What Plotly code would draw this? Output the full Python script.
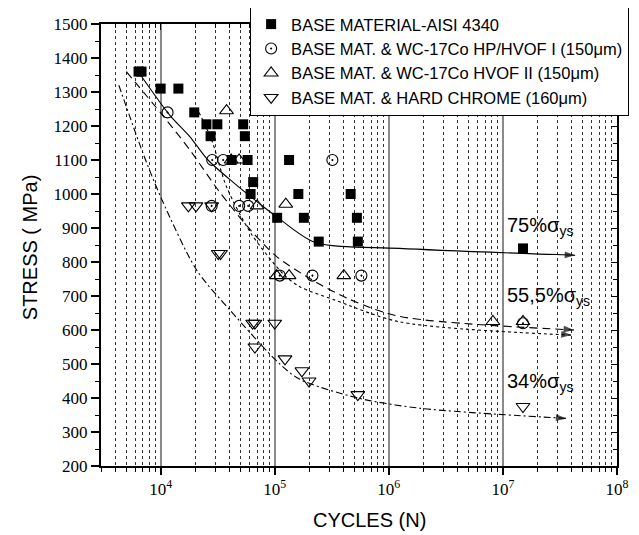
import math
import plotly.graph_objects as go

# ---------------- data ----------------
base_x = [6400, 6800, 10000, 14300, 19700, 25200, 31400, 52900, 27400, 54700,
          41900, 57800, 133600, 64700, 61400, 105000, 161000, 180000, 243000,
          463000, 525000, 535000, 15000000]
base_y = [1360, 1360, 1310, 1310, 1240, 1205, 1205, 1205, 1170, 1170,
          1100, 1100, 1100, 1035, 1000, 930, 1000, 930, 860,
          1000, 930, 860, 840]

hp_x = [11500, 28300, 35300, 320000, 48800, 58500, 28000, 110800, 214000, 575000, 15000000]
hp_y = [1240, 1100, 1100, 1100, 965, 965, 965, 760, 760, 760, 620]

hvof2_x = [37800, 41500, 48700, 70000, 125000, 103700, 133600, 403000, 8170000, 15000000]
hvof2_y = [1245, 1100, 1100, 965, 970, 760, 760, 760, 625, 625]

chrome_x = [17500, 20400, 28000, 32000, 33500, 64000, 67000, 100000, 67000,
            123000, 173000, 200000, 535000, 15000000]
chrome_y = [965, 965, 965, 825, 825, 620, 620, 620, 550,
            515, 480, 450, 410, 375]

# trend curves
curve75_x = [6500, 12000, 18000, 26000, 43000, 85000, 105000, 224000, 1240000, 43000000]
curve75_y = [1355, 1232, 1169, 1100, 1035, 955, 932, 858, 840, 820]

curve55a_x = [5000, 10200, 18000, 33000, 61000, 104000, 232000, 455000, 1240000, 42000000]
curve55a_y = [1360, 1235, 1130, 1005, 895, 816, 740, 690, 640, 600]

curve55b_x = [21700, 28000, 37800, 62000, 118600, 166000, 325000, 1240000, 40000000]
curve55b_y = [1240, 1159, 1021, 884, 765, 727, 690, 624, 585]

curve34_x = [4300, 7000, 10200, 20700, 40400, 110600, 166000, 535000, 1860000, 36000000]
curve34_y = [1320, 1120, 985, 776, 659, 500, 455, 400, 370, 340]

labels = ["BASE MATERIAL-AISI 4340",
          "BASE MAT. & WC-17Co HP/HVOF I (150\u03bcm)",
          "BASE MAT. & WC-17Co HVOF II (150\u03bcm)",
          "BASE MAT. & HARD CHROME (160\u03bcm)"]

xtick_vals = [1e4, 1e5, 1e6, 1e7, 1e8]
xtick_text = ["10<sup>4</sup>", "10<sup>5</sup>", "10<sup>6</sup>", "10<sup>7</sup>", "10<sup>8</sup>"]
xminor_vals = [k * 10 ** d for d in range(3, 8) for k in range(2, 10) if k * 10 ** d >= 3000]

level_texts = ["75%\u03c3<sub>ys</sub>", "55,5%\u03c3<sub>ys</sub>", "34%\u03c3<sub>ys</sub>"]
level_y = [905, 700, 445]

# ---------------- figure ----------------
XR = [math.log10(3000), 8]
YR = [200, 1500]

fig = go.Figure()

curves = [(curve75_x, curve75_y, "solid"),
          (curve55a_x, curve55a_y, "8px,5px"),
          (curve55b_x, curve55b_y, "3px,3px"),
          (curve34_x, curve34_y, "7px,3px,2px,3px")]
for cx, cy, dash in curves:
    n = len(cx)
    fig.add_trace(go.Scatter(
        x=cx, y=cy, mode="lines+markers",
        line=dict(color="black", width=1.1, dash=dash, shape="spline", smoothing=0.8),
        marker=dict(symbol="arrow", angleref="previous", color="black",
                    size=[0] * (n - 1) + [11], line=dict(width=0)),
        showlegend=False, hoverinfo="skip"))

fig.add_trace(go.Scatter(x=base_x, y=base_y, mode="markers", name=labels[0],
                         marker=dict(symbol="square", size=10, color="black")))
fig.add_trace(go.Scatter(x=hp_x, y=hp_y, mode="markers", name=labels[1],
                         marker=dict(symbol="circle-open-dot", size=11, color="black",
                                     line=dict(width=1.1))))
fig.add_trace(go.Scatter(x=hvof2_x, y=hvof2_y, mode="markers", name=labels[2],
                         marker=dict(symbol="triangle-up-open", size=12, color="black",
                                     line=dict(width=1.1))))
fig.add_trace(go.Scatter(x=chrome_x, y=chrome_y, mode="markers", name=labels[3],
                         marker=dict(symbol="triangle-down-open", size=12, color="black",
                                     line=dict(width=1.1))))

# dummy trace to show mirrored axes with inside ticks
fig.add_trace(go.Scatter(x=[None], y=[None], xaxis="x2", yaxis="y2",
                         showlegend=False, hoverinfo="skip"))

serif = "Liberation Serif, Times New Roman, serif"
sans = "Liberation Sans, Arial, sans-serif"

for t, yv in zip(level_texts, level_y):
    fig.add_annotation(x=7.015, y=yv, xref="x", yref="y", text=t, showarrow=False,
                       xanchor="left", yanchor="middle",
                       font=dict(family=sans, size=20, color="black"))

fig.add_annotation(x=0.521, y=-0.122, xref="paper", yref="paper", text="CYCLES (N)",
                   showarrow=False, xanchor="center", yanchor="middle",
                   font=dict(family=sans, size=20, color="black"))
fig.add_annotation(x=-0.1376, y=0.495, xref="paper", yref="paper", text="STRESS ( MPa)",
                   showarrow=False, textangle=-90, xanchor="center", yanchor="middle",
                   font=dict(family=sans, size=20, color="black"))

# the page has an 8px body margin, so the figure is 8px smaller than the window
fig.update_layout(
    width=631, height=527,
    margin=dict(l=93, r=22, t=16, b=69, autoexpand=False),
    paper_bgcolor="white", plot_bgcolor="white",
    showlegend=True,
    legend=dict(x=0.289, y=1.041, xanchor="left", yanchor="top",
                bordercolor="black", borderwidth=1, bgcolor="white",
                font=dict(family=sans, size=16.5, color="black"),
                tracegroupgap=0, itemsizing="trace", itemwidth=30),
    xaxis=dict(type="log", range=XR, tickmode="array", tickvals=xtick_vals, ticktext=xtick_text,
               ticks="outside", ticklen=7, tickwidth=1.5, tickcolor="black",
               showline=True, linecolor="black", linewidth=2,
               showgrid=True, gridcolor="#8a8a8a", gridwidth=1.5, zeroline=False,
               tickfont=dict(family=serif, size=17, color="black"),
               minor=dict(tickmode="array", tickvals=xminor_vals, ticks="outside", ticklen=4,
                          tickwidth=1.2, tickcolor="black",
                          showgrid=True, griddash="dot", gridcolor="#333333", gridwidth=1)),
    yaxis=dict(range=YR, tickmode="linear", tick0=200, dtick=100,
               ticks="outside", ticklen=8, tickwidth=1.5, tickcolor="black",
               showline=True, linecolor="black", linewidth=2,
               showgrid=False, zeroline=False,
               tickfont=dict(family=serif, size=17, color="black"),
               minor=dict(tick0=250, dtick=50, ticks="outside", ticklen=4, tickwidth=1.2,
                          tickcolor="black", showgrid=False)),
    xaxis2=dict(type="log", range=XR, overlaying="x", side="top", tickmode="array",
                tickvals=xtick_vals, showticklabels=False, ticks="inside", ticklen=6,
                tickwidth=1.2, tickcolor="black", showline=True, linecolor="black",
                linewidth=1.5, showgrid=False, zeroline=False,
                minor=dict(tickmode="array", tickvals=xminor_vals, ticks="inside", ticklen=4,
                           tickcolor="black", showgrid=False)),
    yaxis2=dict(range=YR, overlaying="y", side="right", tickmode="linear", tick0=200, dtick=100,
                showticklabels=False, ticks="inside", ticklen=6, tickwidth=1.2, tickcolor="black",
                showline=True, linecolor="black", linewidth=1.5, showgrid=False, zeroline=False,
                minor=dict(tick0=250, dtick=50, ticks="inside", ticklen=4, tickcolor="black",
                           showgrid=False)),
)

fig.write_html("out.html")
